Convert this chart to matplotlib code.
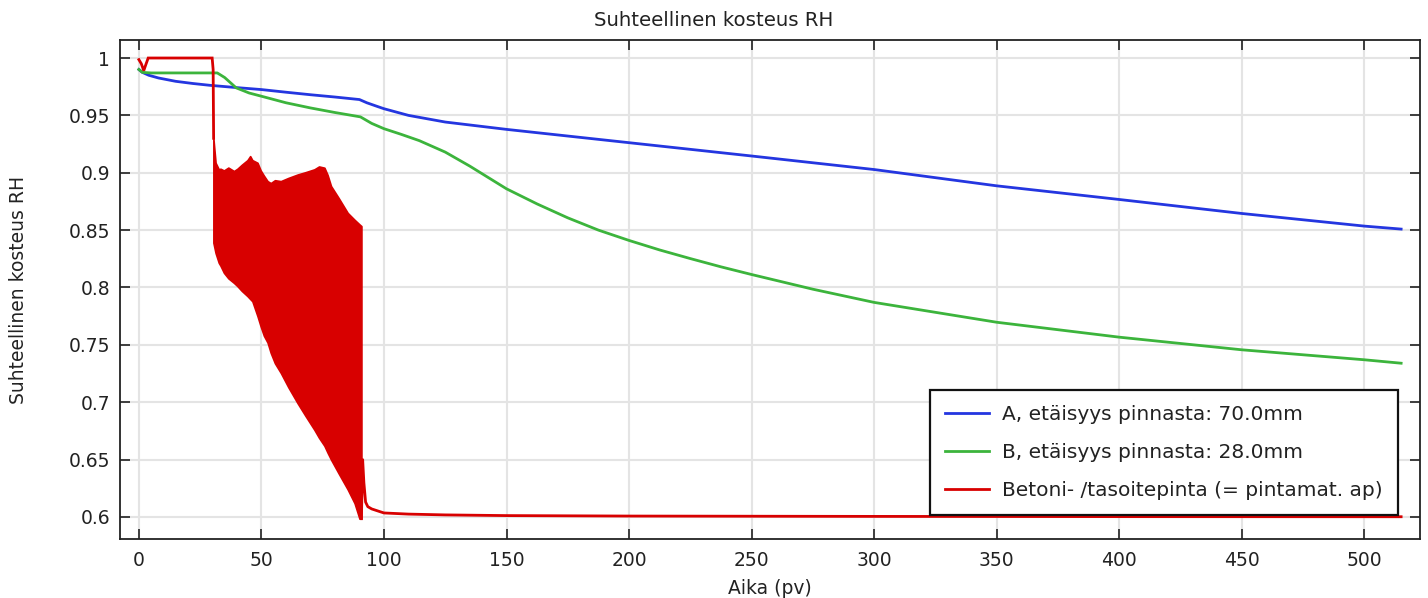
import matplotlib
matplotlib.use("Agg")
import matplotlib.pyplot as plt
from matplotlib.lines import Line2D

# ---------------- data ----------------
title = "Suhteellinen kosteus RH"
xlabel = "Aika (pv)"
ylabel = "Suhteellinen kosteus RH"
legend_labels = ["A, etäisyys pinnasta: 70.0mm",
                 "B, etäisyys pinnasta: 28.0mm",
                 "Betoni- /tasoitepinta (= pintamat. ap)"]

x_ticks = [0, 50, 100, 150, 200, 250, 300, 350, 400, 450, 500]
x_tick_labels = ["0", "50", "100", "150", "200", "250", "300", "350", "400", "450", "500"]
y_ticks = [0.6, 0.65, 0.7, 0.75, 0.8, 0.85, 0.9, 0.95, 1.0]
y_tick_labels = ["0.6", "0.65", "0.7", "0.75", "0.8", "0.85", "0.9", "0.95", "1"]

# Point A (blue)
a_x = [0, 1.4, 4, 8, 15, 22, 29, 40, 50, 60, 70, 80, 90, 93, 97, 100, 110, 125,
       150, 175, 200, 225, 250, 275, 300, 350, 400, 450, 500, 515]
a_y = [0.990, 0.9875, 0.985, 0.9826, 0.9797, 0.9778, 0.9762, 0.9742, 0.9725,
       0.9702, 0.968, 0.966, 0.9638, 0.961, 0.958, 0.9558, 0.950, 0.9442,
       0.9378, 0.932, 0.9262, 0.9204, 0.9146, 0.9087, 0.9028, 0.8886, 0.8767,
       0.8645, 0.8535, 0.8509]

# Point B (green)
b_x = [0, 1.4, 5, 15, 25, 32, 35, 39.7, 45, 50, 60, 70, 80, 90.4, 95, 100,
       107, 114.4, 125, 135, 150, 162.5, 175, 187.5, 200, 212.5, 225, 237.5,
       250, 275, 300, 350, 400, 450, 500, 515]
b_y = [0.990, 0.9875, 0.987, 0.987, 0.987, 0.987, 0.983, 0.974, 0.9695, 0.9667,
       0.961, 0.9565, 0.9525, 0.9487, 0.943, 0.9384, 0.9335, 0.9280, 0.918,
       0.9058, 0.886, 0.8728, 0.8607, 0.8500, 0.8410, 0.8327, 0.8252, 0.8180,
       0.8113, 0.7985, 0.787, 0.7697, 0.7567, 0.7457, 0.737, 0.734]

# Surface (red): smooth parts before and after the oscillating period
c_pre_x = [0, 1, 2, 2.8, 3.8, 10, 20, 29.9, 30.3, 30.5]
c_pre_y = [0.9986, 0.995, 0.989, 0.994, 1.0, 1.0, 1.0, 1.0, 0.99, 0.93]
c_post_x = [90.8, 91.3, 91.8, 92.5, 93.4, 95, 98.4, 100, 110, 125, 150, 200,
            300, 400, 515]
c_post_y = [0.5985, 0.65, 0.63, 0.613, 0.609, 0.607, 0.6046, 0.6035, 0.6025,
            0.6018, 0.6012, 0.6008, 0.6005, 0.6003, 0.6002]

# Surface (red): envelope of the dense oscillation between ~30 and ~91 days
band_x = [30.4, 31.3, 32.6, 33.3, 34.7, 36.5, 38.8, 40.2, 42.0, 44.3, 45.4,
          46.3, 48.4, 49.7, 51.0, 52.5, 53.8, 55.5, 57.9, 61.0, 64.8, 68.0,
          71.6, 73.5, 75.7, 77.0, 78.4, 81.5, 85.2, 88.0, 90.0, 90.8]
band_hi = [0.930, 0.9087, 0.903, 0.9035, 0.902, 0.9045, 0.9015, 0.9035, 0.907,
           0.911, 0.9145, 0.911, 0.9087, 0.902, 0.8975, 0.8927, 0.891, 0.8935,
           0.8927, 0.8955, 0.8985, 0.9005, 0.903, 0.9055, 0.9044, 0.898,
           0.8884, 0.878, 0.865, 0.859, 0.855, 0.8535]
band_lo = [0.839, 0.830, 0.8215, 0.819, 0.8128, 0.808, 0.804, 0.8012, 0.797,
           0.7925, 0.790, 0.788, 0.775, 0.766, 0.758, 0.752, 0.743, 0.734,
           0.7256, 0.713, 0.699, 0.688, 0.676, 0.669, 0.662, 0.656, 0.650,
           0.638, 0.624, 0.612, 0.5985, 0.5985]

# ---------------- styling ----------------
BLUE = "#2436e0"
GREEN = "#3cb43c"
RED = "#d80000"
FS = 13.5

plt.rcParams["font.family"] = ["DejaVu Sans"]

fig = plt.figure(figsize=(14.28, 5.98), dpi=100)
ax = fig.add_axes([120 / 1428, 1 - 539 / 598, 1300 / 1428, 499 / 598])

lw = 2.0
ax.plot(a_x, a_y, color=BLUE, lw=lw, zorder=3)
ax.plot(b_x, b_y, color=GREEN, lw=lw, zorder=3)
ax.plot(c_pre_x, c_pre_y, color=RED, lw=lw, zorder=3, solid_joinstyle="miter")
ax.fill_between(band_x, band_lo, band_hi, color=RED, lw=1.2, edgecolor=RED,
                zorder=3)
ax.plot(c_post_x, c_post_y, color=RED, lw=lw, zorder=3)

ax.set_xlim(-7.7, 522.7)
ax.set_ylim(0.5808, 1.0157)
ax.set_xticks(x_ticks)
ax.set_xticklabels(x_tick_labels)
ax.set_yticks(y_ticks)
ax.set_yticklabels(y_tick_labels)

ax.grid(True, color="#e4e4e4", lw=1.5, zorder=0)
ax.set_axisbelow(True)
ax.tick_params(direction="in", length=7, width=1.2, top=True, right=True,
               labelsize=FS, colors="#222222", pad=7)
ax.tick_params(axis="x", pad=9)
for sp in ax.spines.values():
    sp.set_linewidth(1.3)
    sp.set_color("#222222")

# title is centred on the whole figure in the reference
fig.text(0.5, 1 - 20 / 598, title, fontsize=14.2, color="#222222",
         ha="center", va="center")
ax.set_xlabel(xlabel, fontsize=FS, color="#222222", labelpad=6)
ax.set_ylabel(ylabel, fontsize=FS, color="#222222", labelpad=29)

handles = [Line2D([], [], color=BLUE, lw=lw),
           Line2D([], [], color=GREEN, lw=lw),
           Line2D([], [], color=RED, lw=lw)]
leg = ax.legend(handles, legend_labels, loc="lower right",
                bbox_to_anchor=((1398 - 120) / 1300, (539 - 515) / 499),
                fontsize=14.5, frameon=True, fancybox=False, framealpha=1,
                edgecolor="#111111", handlelength=2.2, handletextpad=0.65,
                labelspacing=0.95, borderpad=0.75, borderaxespad=0)
leg.get_frame().set_linewidth(1.6)
for t in leg.get_texts():
    t.set_color("#222222")

fig.savefig("out.png", dpi=100, facecolor="white")
